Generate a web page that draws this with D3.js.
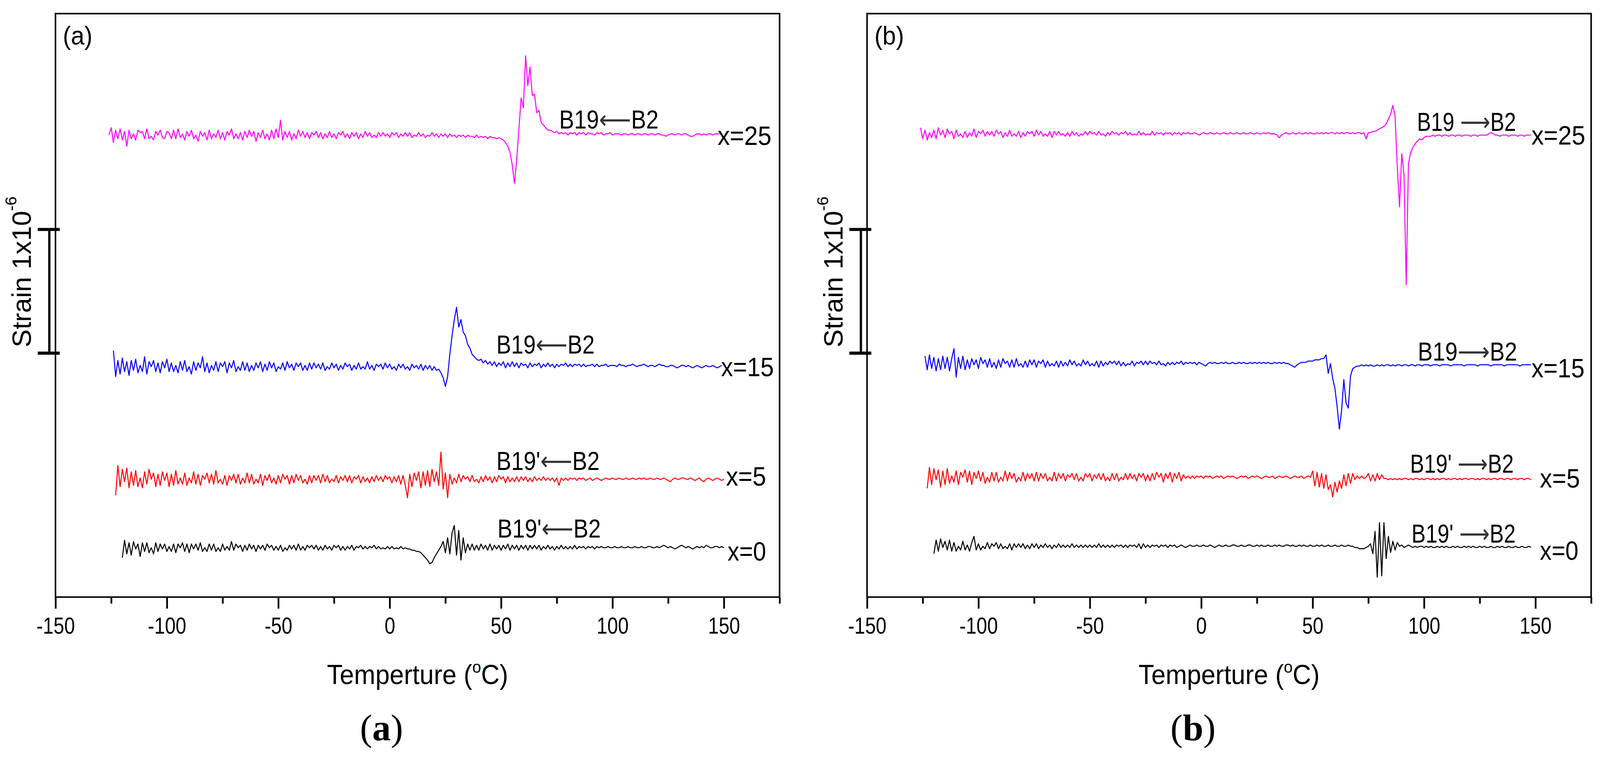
<!DOCTYPE html>
<html>
<head>
<meta charset="utf-8">
<script src="https://cdn.jsdelivr.net/npm/d3@7"></script>
<style>
  html, body { margin: 0; padding: 0; overflow: hidden; background: #fff; }
  svg { display: block; width: 100vw; height: 100vh; }
  text { font-family: "Liberation Sans", Arial, sans-serif; fill: #000; }
</style>
</head>
<body>
<div id="chart"></div>
<script>
// ---- data (strain deviation in units of 1e-8, one value per degree C) ----
const seriesNames = ['x=25', 'x=15', 'x=5', 'x=0'];
const seriesColors = ['#ff00ff', '#0000ff', '#ff0000', '#000000'];

const xMajorTicks = [-150, -100, -50, 0, 50, 100, 150];
const xMinorTicks = [-125, -75, -25, 25, 75, 125, 175];

// (a) cooling curves
const coolStart = [-126, -124, -123, -120];
const coolOffset = [373.5, 186.3, 95.3, 39.9];
const coolArrow = ['B19|\u27F5|B2', 'B19|\u27F5|B2', "B19'|\u27F5|B2", "B19'|\u27F5|B2"];

const cool25 = [
  0, 6, -6, 4, -3, 5, -4, 3, -9, 4,
  -3, 1, -4, 4, 2, 3, -3, 5, -3, -1,
  -4, 3, 0, 4, -2, -3, 3, 2, -3, 4,
  -3, 5, -2, 1, -4, 3, -1, 4, -3, 0,
  -5, 3, -1, 2, -4, 4, -3, 1, -2, 4,
  -3, 2, -4, 3, 0, 5, -3, 1, -3, 2,
  -4, 3, -2, 4, -1, 3, -5, 2, -2, 4,
  -3, 1, -4, 4, -3, 5, -2, 12, -4, 3,
  -2, 3, -4, 1, -3, 4, -1, 3, -2, 2,
  -3, 2, 0, 3, -2, 2, -3, 1, -2, 3,
  -2, 1, -3, 2, 0, 3, -2, 1, -3, 2,
  -1, 2, -3, 1, -2, 3, -1, 2, -2, 0,
  -2, 2, -1, 2, -1, 1, -2, 2, 0, 2,
  -2, 1, -1, 2, -1, 2, -2, 0, -1, 2,
  -1, 1, -2, 0, -1, 2, -1, 1, -2, 1,
  -1, 1, -2, 1, -1, 0, -2, 0, -1, 0,
  -2, 0, -1, -1, -2, 0, -2, -1, -2, -1,
  -3, -1, -2, -2, -3, -2, -3, -4, -6, -9,
  -14, -24, -39, -20, 5, 30, 22, 64, 40, 55,
  32, 33, 18, 20, 10, 8, 6, 4, 4, 3,
  2, 3, 1, 2, 1, 2, 0, 2, 1, 2,
  0, 2, 1, 2, 0, 2, 1, 1, 0, 2,
  1, 2, 0, 1, 1, 2, 0, 1, 1, 1,
  0, 1, 1, 0, 1, 1, 0, 1, 1, 0,
  1, 1, 0, 1, 1, 0, 1, 1, 0, 0,
  -1, 0, 1, 1, 0, 1, 1, 0, 1, 1,
  0, -1, -1, 0, 1, 1, 0, 1, 0, 1,
  1, 0, 1, 1, 1
];

const cool15 = [
  13, -8, 5, -6, 7, -4, 4, -7, 5, -3,
  6, -5, 1, -4, 8, -6, 4, 0, 5, -4,
  3, -5, 4, -1, 6, -4, 3, -4, 1, -5,
  4, -3, 5, -4, 0, -6, 4, -3, 3, -1,
  8, -4, 3, -5, 1, -3, 4, -4, 3, 0,
  4, -5, 3, -1, 5, -4, 0, -3, 4, -3,
  3, -4, 1, -3, 3, -1, 4, -4, 2, -3,
  4, -1, 3, -4, 0, -2, 3, -3, 4, -1,
  2, -3, 3, 0, 3, -3, 1, -3, 3, -2,
  3, -1, 2, -2, 3, -3, 0, -2, 3, -1,
  2, -3, 1, -2, 3, 0, 2, -3, 1, -2,
  3, -2, 0, -2, 4, -2, 1, -3, 2, 0,
  2, -2, 3, -1, 2, -2, 0, -3, 2, -1,
  2, -2, 0, -3, 2, -1, 1, -2, 2, -3,
  1, -2, 1, -3, 0, -3, -2, -5, -9, -16,
  -8, 10, 25, 38, 48, 32, 38, 28, 25, 18,
  15, 10, 8, 6, 5, 6, 3, 5, 2, 4,
  1, 4, 0, 3, 1, 4, -1, 3, 0, 4,
  0, 3, -1, 3, 1, 2, -1, 3, 0, 2,
  1, 3, -1, 2, 0, 3, 0, 2, -1, 2,
  0, 2, 1, 3, 0, 2, 0, 2, 1, 2,
  0, 2, 0, 1, 1, 2, 0, 2, 0, 1,
  1, 2, 0, 1, 1, 1, 0, 2, 1, 1,
  0, 1, 1, 2, 1, 0, 1, 1, 2, 1,
  0, 1, 1, 0, 1, 2, 1, 1, 0, 0,
  1, 1, 0, -1, 0, 1, 1, 0, 1, 0,
  -1, 0, 1, 0, -1, 0, 1, 0, 0, 1,
  0, -1, 0, 1
];

const cool5 = [
  -13, 11, -6, 8, -2, 9, -7, 6, -5, 7,
  -6, 1, -7, 6, -4, 8, 0, 5, -6, 4,
  -5, 6, -1, 5, -6, 4, -5, 7, -4, 1,
  -4, 5, -5, 1, -3, 6, -4, 4, -5, 3,
  0, 5, -3, 4, -4, 7, -3, 0, -4, 3,
  -5, 3, -1, 4, -3, 4, -4, 1, -3, 5,
  -3, 4, -4, 0, -3, 4, -5, 3, -1, 4,
  -3, 1, -4, 3, -3, 4, 0, 3, -4, 3,
  -3, 4, -1, 3, -3, 0, -4, 3, -3, 3,
  -1, 3, -3, 4, -2, 3, -3, 0, -2, 3,
  -3, 2, -1, 3, -2, 3, -3, 2, 0, 3,
  -3, 2, -2, 1, -3, 2, -2, 3, -1, 2,
  -2, 3, 0, 2, -3, 2, -2, 3, -4, 3,
  -5, -15, 4, -6, 5, -1, 6, -7, 6, -5,
  7, -6, 8, -2, 6, -5, 22, -8, 5, -15,
  4, -4, 1, -3, 4, -2, 3, 0, 2, -2,
  3, -2, 0, -3, 2, -2, 3, -1, 2, -3,
  2, -2, 3, 0, 2, -3, 2, -2, 1, -2,
  2, -2, 2, -1, 2, -2, 1, -2, 2, -1,
  1, -1, 2, -1, 1, -1, 1, -2, 1, -5,
  1, -1, 1, -1, 1, 0, 1, -1, 1, 0,
  1, -1, 0, 1, -1, 0, 1, 0, -1, 0,
  1, 0, 0, 1, 0, 0, 1, 0, 0, 1,
  0, 0, 1, 0, 0, 1, 0, 1, 0, 0,
  1, 0, 0, 1, 0, 0, 1, 0, -1, -2,
  0, 1, 0, 0, 1, 1, 0, 0, 1, 0,
  -1, 0, 1, -1, -2, 0, 1, 0, -1, 0,
  1, 0, -1, 0
];

const cool0 = [
  -8, 6, -5, 4, -6, 5, -1, 3, -7, 4,
  -3, 4, -4, 0, -5, 4, -3, 3, -1, 3,
  -3, 1, -3, 3, -4, 3, 0, 4, -3, 3,
  -4, 3, -1, 3, -2, 4, -3, 0, -3, 3,
  -2, 3, -3, 0, -3, 3, -2, 1, -2, 5,
  -2, 3, 0, 2, -3, 2, -2, 3, -1, 2,
  -3, 2, -1, 2, -2, 3, 0, 2, -2, 1,
  -2, 2, -3, 0, -2, 2, -1, 2, -2, 3,
  -2, 1, -2, 2, 0, 2, -1, 2, -2, 1,
  -2, 2, -1, 1, -2, 2, 0, 2, -2, 1,
  -2, 1, -1, 2, -2, 1, 0, 2, -1, 1,
  -1, 1, 0, 2, -1, 1, -1, 0, -1, 1,
  -1, 1, -1, 0, -1, 1, -1, 0, -1, -1,
  -2, -2, -3, -3, -4, -6, -8, -10, -13, -12,
  -8, -5, -2, 1, 5, -4, 8, -5, 12, 18,
  -6, 14, -10, 8, -4, 3, -2, 3, -2, 2,
  -2, 3, -1, 2, -2, 3, -2, 2, -1, 2,
  -2, 2, -1, 3, -2, 2, -1, 2, -2, 2,
  -1, 2, -2, 2, -1, 2, -1, 2, -2, 1,
  -1, 2, -1, 1, -2, 1, -1, 2, -1, 1,
  -1, 1, -1, 2, -1, 1, 0, 1, -1, 1,
  0, 1, -1, 1, 0, 1, 0, 0, 1, 0,
  0, 1, 0, 0, 1, 0, 0, 1, 0, 0,
  1, 0, 0, 1, 0, 0, 1, 1, 0, 0,
  1, 0, 1, 2, 1, 0, 1, 0, -1, 0,
  1, 2, 1, 0, 1, 0, -1, 0, 1, 0,
  1, 0, 2, 1, 0, 0, 1, 1, 0, 1,
  0
];

// (b) heating curves
const heatStart = [-126, -124, -123, -120];
const heatOffset = [374.5, 188.8, 96.9, 41.1];
const heatArrow = ['B19 |\u27F6|B2', 'B19|\u27F6|B2', "B19' |\u27F6|B2", "B19' |\u27F6|B2"];

const heat25 = [
  5, -4, 3, -5, 1, -3, 3, -4, 5, -1,
  3, -3, 4, 0, 2, -4, 3, -2, 0, -3,
  2, -3, 1, -2, 4, -3, 2, 0, 3, -2,
  2, -1, 2, -2, 3, 0, 2, -3, 1, -2,
  3, -2, 0, -2, 2, -3, 1, -2, 2, 0,
  2, -2, 3, -1, 2, -2, 0, -2, 2, -3,
  2, -1, 2, -1, 0, -2, 1, -2, 2, -1,
  1, -2, 0, -1, 2, -1, 2, 0, 1, -1,
  2, -1, 0, -2, 1, -1, 2, 0, 1, -1,
  1, 0, 2, -1, 1, -1, 0, -1, 2, -1,
  1, -1, 0, -1, 2, -1, 1, 0, 1, -1,
  1, 0, 1, -1, 1, 0, 1, -1, 1, 0,
  1, 0, 0, 1, 0, -1, 0, 1, 0, 0,
  1, 0, 0, 1, 0, 0, 1, 0, 0, 1,
  0, 0, 1, 0, 0, 1, 0, 0, 1, 0,
  0, 1, 0, 0, 1, 0, 1, 0, 0, 0,
  -1, -3, -1, 0, 1, 0, 0, 1, 0, 0,
  1, 0, 0, 1, 0, 1, 0, 0, 1, 0,
  1, 0, 1, 0, 1, 1, 0, 1, 0, 1,
  0, 1, 1, 0, 1, 0, 1, 1, 0, 1,
  -4, 1, 1, 2, 2, 3, 4, 5, 6, 8,
  12, 16, 23, 14, -27, -59, -16, -33, -122, -24,
  -15, -11, -8, -6, -4, -5, -3, -2, -2, -2,
  -1, -2, -1, -1, -2, -1, -1, -2, -1, -1,
  -2, -1, -1, -2, -1, -1, -1, -2, -1, -1,
  -2, -1, -1, -1, -1, 0, 1, 0, -1, -1,
  -2, -1, -1, -1, -2, -1, -1, -1, -2, -1,
  -1, -2, -1, -1, -1
];

const heat15 = [
  6, -5, 7, -4, 5, -6, 4, -5, 6, -4,
  5, -6, 4, 12, -11, 5, -4, 6, -5, 3,
  -4, 4, -1, 3, -4, 5, 0, 3, -3, 4,
  -3, 1, -4, 3, -3, 4, 0, 2, -3, 3,
  -3, 4, -2, 0, -3, 2, -3, 3, -1, 3,
  -3, 2, 0, 3, -3, 2, -2, 0, -2, 2,
  -3, 2, -2, 1, -2, 3, -1, 2, -2, 0,
  -2, 3, -1, 2, -2, 0, -2, 2, -3, 2,
  -2, 1, -1, 2, 0, 2, -1, 2, -2, 1,
  -2, 0, -1, 2, -2, 1, 0, 2, -1, 2,
  -1, 2, 0, 1, -1, 2, -1, 0, -2, 1,
  -1, 1, -1, 1, 0, 2, -1, 1, 0, 1,
  0, 1, -1, 1, 0, -1, -2, 0, 1, 0,
  1, 0, 0, 1, 0, 1, 0, 0, 1, 0,
  0, 1, 0, 1, 0, 0, 1, 0, 1, 0,
  1, 0, 1, 0, 1, 0, 0, 1, 0, 1,
  0, 1, 0, 0, -1, -2, -3, -1, 0, 1,
  1, 1, 2, 2, 2, 3, 3, 3, 4, 4,
  7, -8, 0, -12, -20, -35, -53, -38, -13, -32,
  -36, -10, -4, -3, -2, -2, -1, -2, -1, -2,
  -1, -2, -2, -1, -2, -1, -2, -1, -1, -2,
  -1, -2, -1, -1, -2, -1, -1, -2, -1, -1,
  -2, -1, -1, -2, -1, -1, -1, -2, -1, -1,
  -1, -2, -1, -1, -1, -1, -2, -1, -1, -1,
  -1, -1, -2, -1, -1, -1, -1, -1, -2, -1,
  -1, -1, -1, -1, -2, -1, -1, -1, -1, -1,
  -2, -1, -1, -1, -1, -1, -1, -2, -1, -1,
  -1, -1, -1
];

const heat5 = [
  -9, 8, -6, 7, -2, 6, -8, 5, -6, 7,
  -5, 1, -4, 5, -6, 4, 0, 6, -4, 5,
  -6, 4, -1, 5, -3, 4, -5, 0, -4, 4,
  -3, 4, -4, 0, -3, 5, -3, 4, -1, 3,
  -4, 0, -3, 4, -3, 3, -1, 3, -3, 4,
  -3, 3, -1, 3, -3, 0, -3, 4, -3, 3,
  -1, 3, -3, 2, 0, 3, -2, 3, -3, 0,
  -3, 3, 0, 3, -3, 2, -1, 3, -2, 3,
  -3, 0, -3, 3, -2, 3, -3, 0, -2, 3,
  -2, 3, -1, 2, -3, 3, 0, 3, -3, 2,
  -3, 3, -2, 4, 0, 3, -4, 3, -1, 4,
  -4, 3, -1, 4, -3, 2, -1, 1, -1, 1,
  -1, 1, 0, 1, -1, 1, 0, 1, -1, 0,
  1, 0, 1, -1, 0, 1, 0, 1, 0, -1,
  0, 1, 0, 1, -1, 0, 1, 0, 1, 0,
  -1, 0, 1, 0, 0, 1, -1, 0, 1, 0,
  0, 1, 0, -1, 0, 1, 0, 0, 1, -1,
  0, 1, 0, 5, -7, 4, -8, 3, -9, 2,
  -10, -6, -16, -4, -12, -3, -9, 2, -7, 3,
  -5, 3, -2, 1, -1, 1, -1, 0, 3, -3,
  2, -3, 3, -2, 2, -1, -1, -2, -1, -2,
  -1, -2, -1, -2, -1, -1, -2, -1, -2, -1,
  -1, -2, -1, -2, -1, -1, -2, -1, -2, -1,
  -2, -1, -1, -2, -1, -2, -1, -1, -2, -1,
  -2, -1, -1, -2, -1, -1, -2, -1, -2, -1,
  -1, -2, -1, -2, -1, -1, -2, -1, -1, -2,
  -1, -1, -2, -1, -1, -2, -1, -1, -2, -1,
  -1, -2
];

const heat0 = [
  -6, 5, -4, 6, -1, 4, -3, 5, -4, 3,
  -4, 0, -3, 4, -3, 1, -4, 3, 8, -3,
  2, -3, 0, -2, 3, -2, 2, 0, 3, -2,
  2, -2, 0, -2, 2, -3, 2, -1, 2, -1,
  2, -2, 1, -2, 2, -1, 2, -2, 1, -1,
  2, -1, 1, -2, 1, -1, 2, -1, 1, -1,
  1, -1, 2, -1, 1, -1, 1, -1, 1, -1,
  1, -1, 1, -1, 2, -1, 1, -1, 1, -1,
  1, -1, 1, 0, 1, -1, 1, -1, 1, 0,
  1, -1, 2, -2, 2, -1, 1, -1, 1, 0,
  1, -1, 1, 0, 1, -1, 1, 0, 1, -1,
  0, 1, 0, -1, 0, 1, 0, 0, 1, 0,
  0, 1, 0, 0, 1, 0, -1, 0, 1, 0,
  0, 1, 0, 0, 1, 1, 0, 0, 1, 0,
  0, 1, 1, 0, 0, 1, 0, 1, 0, 0,
  1, 0, 0, 1, 0, 1, 0, 0, 1, 1,
  0, 1, 0, 0, 1, 0, 1, 0, 0, 1,
  0, 0, 1, 0, 1, 0, 0, 1, 0, 0,
  1, 0, 0, 1, 0, 0, 1, 0, 0, -1,
  -1, -2, -2, -2, -1, 0, 2, -6, 12, -25,
  19, -24, 19, -10, 8, -5, 4, -3, 3, 0,
  1, -1, 0, 1, 0, -1, 0, -1, 0, 0,
  -1, 0, -1, 0, -1, -1, 0, -1, 0, -1,
  0, -1, -1, 0, -1, 0, -1, -1, 0, -1,
  0, -1, 0, -1, -1, 0, -1, 0, -1, -1,
  0, -1, -1, 0, -1, 0, -1, -1, 0, -1,
  -1, 0, -1, -1, 0, -1, -1, 0, -1
];

// ---- layout ----
const width = 4152;
const height = 1948;
const plotTop = 22;
const plotBottom = 1536;
const plotWidth = 1879;
const yMax = 471.7;              // 1e-8 strain units across the plot height
const scaleBar = [197.2, 297.2]; // 1x10^-6

const svg = d3.select('#chart')
  .append('svg')
  .attr('viewBox', `0 0 ${width} ${height}`)
  .attr('preserveAspectRatio', 'xMidYMid meet');

svg.append('rect')
  .attr('width', width)
  .attr('height', height)
  .attr('fill', '#fff');

const panels = [
  {
    left: 144, tag: '(a)', caption: 'a',
    traces: [cool25, cool15, cool5, cool0], start: coolStart, offset: coolOffset, arrow: coolArrow,
    arrowPos: [[1451, 320, 258], [1288, 904, 255], [1288, 1206, 268], [1291, 1382, 268]],
    namePos: [[1862, 363, 140], [1871, 963, 137], [1884, 1247, 104], [1888, 1441, 100]]
  },
  {
    left: 2250, tag: '(b)', caption: 'b',
    traces: [heat25, heat15, heat5, heat0], start: heatStart, offset: heatOffset, arrow: heatArrow,
    arrowPos: [[3677, 326, 257], [3679, 922, 258], [3659, 1213, 269], [3663, 1395, 270]],
    namePos: [[3974, 362, 140], [3974, 966, 138], [3996, 1252, 104], [3996, 1439, 100]]
  }
];

// squeeze a text horizontally so that it spans the wanted width
function fitWidth(t, x, y, wanted) {
  const w = t.node().getComputedTextLength();
  const s = w > 0 ? wanted / w : 1;
  t.attr('transform', `translate(${x}, ${y}) scale(${s}, 1)`);
}

panels.forEach(drawPanel);

function drawPanel(p) {
  const g = svg.append('g');

  const x = d3.scaleLinear()
    .domain([-150, 175])
    .range([p.left, p.left + plotWidth]);

  const y = d3.scaleLinear()
    .domain([0, yMax])
    .range([plotBottom, plotTop]);

  const line = d3.line()
    .x(d => x(d[0]))
    .y(d => y(d[1]));

  // traces
  p.traces.forEach((vals, i) => {
    const pts = vals.map((v, k) => [p.start[i] + k, p.offset[i] + v]);
    g.append('path')
      .attr('d', line(pts))
      .attr('fill', 'none')
      .attr('stroke', seriesColors[i])
      .attr('stroke-width', 2.6)
      .attr('stroke-linejoin', 'round');
  });

  // bottom axis, major and minor ticks
  const axisG = g.append('g')
    .attr('transform', `translate(0, ${plotBottom})`);

  axisG.append('g')
    .call(d3.axisBottom(x).tickValues(xMajorTicks).tickSize(30).tickPadding(22).tickFormat(d => String(d)));
  axisG.append('g')
    .call(d3.axisBottom(x).tickValues(xMinorTicks).tickSize(17).tickFormat(''));

  axisG.selectAll('.domain').remove();
  axisG.selectAll('line').attr('stroke', '#000').attr('stroke-width', 4.5);
  axisG.selectAll('text')
    .attr('fill', '#000')
    .attr('font-size', 60)
    .style('font-family', '"Liberation Sans", Arial, sans-serif')
    .attr('transform', 'scale(0.83,1)');

  // frame
  g.append('rect')
    .attr('x', p.left)
    .attr('y', plotTop)
    .attr('width', plotWidth)
    .attr('height', plotBottom - plotTop)
    .attr('fill', 'none')
    .attr('stroke', '#000')
    .attr('stroke-width', 4);

  // scale bar
  const barX = p.left - 16;
  g.append('line')
    .attr('x1', barX).attr('x2', barX)
    .attr('y1', y(scaleBar[0])).attr('y2', y(scaleBar[1]))
    .attr('stroke', '#000').attr('stroke-width', 6);
  scaleBar.forEach(v => {
    g.append('line')
      .attr('x1', p.left - 46).attr('x2', p.left + 11)
      .attr('y1', y(v)).attr('y2', y(v))
      .attr('stroke', '#000').attr('stroke-width', 8);
  });

  // y title
  const yTitle = g.append('text')
    .attr('transform', `translate(${p.left - 64}, 888) rotate(-90)`)
    .attr('font-size', 70);
  yTitle.append('tspan').text('Strain 1x10');
  yTitle.append('tspan').attr('font-size', 42).attr('dy', -37).text('-6');

  // x title
  const xTitle = g.append('text')
    .attr('text-anchor', 'middle')
    .attr('font-size', 71);
  xTitle.append('tspan').text('Temperture (');
  xTitle.append('tspan').attr('font-size', 44).attr('dy', -30).text('o');
  xTitle.append('tspan').attr('dy', 30).text('C)');
  fitWidth(xTitle, p.left + plotWidth / 2, 1762, 470);

  // panel tag inside frame
  g.append('text')
    .attr('x', p.left + 19)
    .attr('y', 102)
    .attr('font-size', 68)
    .attr('textLength', 77)
    .attr('lengthAdjust', 'spacingAndGlyphs')
    .text(p.tag);

  // caption below
  const cap = g.append('text')
    .attr('x', p.left + 846)
    .attr('y', 1908)
    .attr('text-anchor', 'middle')
    .attr('font-size', 96)
    .style('font-family', '"Liberation Serif", "Times New Roman", serif');
  cap.append('tspan').text('(');
  cap.append('tspan').attr('font-weight', 'bold').text(p.caption);
  cap.append('tspan').text(')');

  // transition labels
  p.arrow.forEach((str, i) => {
    const parts = str.split('|');
    const pos = p.arrowPos[i];
    const t = g.append('text')
      .attr('font-size', 67);
    t.append('tspan').text(parts[0]);
    t.append('tspan').attr('fill', '#333').style('font-family', '"DejaVu Sans", sans-serif').text(parts[1]);
    t.append('tspan').text(parts[2]);
    fitWidth(t, pos[0], pos[1], pos[2]);
  });

  // composition labels
  seriesNames.forEach((name, i) => {
    const pos = p.namePos[i];
    g.append('text')
      .attr('x', pos[0])
      .attr('y', pos[1])
      .attr('font-size', 70)
      .attr('textLength', pos[2])
      .attr('lengthAdjust', 'spacingAndGlyphs')
      .text(name);
  });
}
</script>
</body>
</html>
